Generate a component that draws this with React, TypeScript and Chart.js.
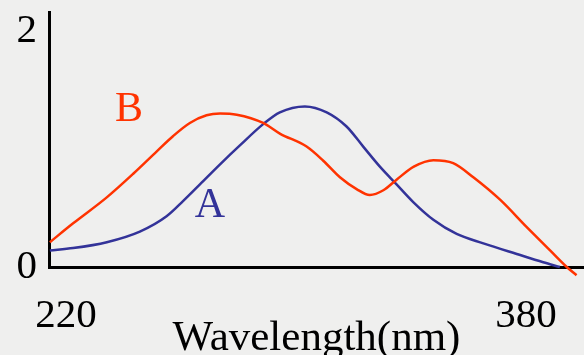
import React, { useEffect, useRef } from "react";
import { Chart, registerables } from "chart.js";

Chart.register(...registerables);

// Spectrum B (red)
const wavelengthsB = [214.4, 222.5, 234.2, 243.4, 251.6, 257.3, 263.1, 268.9, 273.6, 279.4, 288.6, 294.4, 303.7, 309.5, 315.3, 321.1, 325.7, 330.4, 335.0, 341.0, 347.8, 354.7, 361.7, 371.0, 380.2, 388.4, 394.2, 397.6];
const absorbanceB = [0.21, 0.37, 0.59, 0.79, 0.98, 1.11, 1.22, 1.285, 1.30, 1.29, 1.22, 1.13, 1.02, 0.90, 0.76, 0.66, 0.61, 0.65, 0.74, 0.85, 0.905, 0.88, 0.76, 0.57, 0.34, 0.14, 0.0, -0.07];

// Spectrum A (blue)
const wavelengthsA = [214.4, 222.5, 234.2, 245.7, 255.0, 260.8, 266.6, 273.6, 280.5, 288.6, 294.4, 303.1, 310.7, 317.6, 323.4, 329.2, 335.0, 340.8, 347.8, 355.9, 365.2, 376.8, 386.0, 391.8];
const absorbanceA = [0.14, 0.16, 0.21, 0.30, 0.43, 0.56, 0.70, 0.87, 1.03, 1.21, 1.31, 1.36, 1.31, 1.19, 1.02, 0.85, 0.70, 0.55, 0.40, 0.28, 0.20, 0.11, 0.04, 0.0];

const xTicks = [220, 380];
const yTicks = [0, 2];

// Series labels: [text, wavelength, absorbance]
const seriesLabels: [string, number, number][] = [
  ["B", 241.9, 1.33],
  ["A", 270.1, 0.52],
];

const RED = "#ff3300";
const BLUE = "#333399";
const FONT = "'Liberation Serif', 'Times New Roman', serif";

export default function App() {
  const ref = useRef<HTMLCanvasElement>(null);

  useEffect(() => {
    document.body.style.margin = "0";
    const canvas = ref.current!;
    const bgPlugin = {
      id: "bg",
      beforeDraw(chart: any) {
        const c = chart.ctx;
        c.save();
        c.fillStyle = "#efefee";
        c.fillRect(0, 0, chart.width, chart.height);
        c.restore();
      },
    };
    const labelPlugin = {
      id: "seriesLabels",
      afterDatasetsDraw(chart: any) {
        const c = chart.ctx;
        const xs = chart.scales.x;
        const ys = chart.scales.y;
        c.save();
        c.font = `42px ${FONT}`;
        c.textAlign = "center";
        c.textBaseline = "middle";
        seriesLabels.forEach(([t, wx, wy], i) => {
          c.fillStyle = i === 0 ? RED : BLUE;
          c.fillText(t, xs.getPixelForValue(wx), ys.getPixelForValue(wy));
        });
        c.restore();
      },
    };

    const chart = new Chart(canvas, {
      type: "line",
      data: {
        datasets: [
          {
            label: "B",
            data: wavelengthsB.map((w, i) => ({ x: w, y: absorbanceB[i] })),
            borderColor: RED,
            borderWidth: 2.5,
            pointRadius: 0,
            cubicInterpolationMode: "monotone",
            fill: false,
            clip: false as any,
          },
          {
            label: "A",
            data: wavelengthsA.map((w, i) => ({ x: w, y: absorbanceA[i] })),
            borderColor: BLUE,
            borderWidth: 2.5,
            pointRadius: 0,
            cubicInterpolationMode: "monotone",
            fill: false,
            clip: false as any,
          },
        ],
      },
      options: {
        responsive: false,
        animation: false,
        layout: { padding: { top: 12, right: 0, left: 0, bottom: 0 } },
        plugins: { legend: { display: false }, tooltip: { enabled: false } },
        scales: {
          x: {
            type: "linear",
            min: 214.1,
            max: 400.2,
            afterBuildTicks: (s: any) => {
              s.ticks = xTicks.map((v) => ({ value: v }));
            },
            afterFit: (s: any) => {
              s.height = 88;
              s.paddingLeft = 0;
              s.paddingRight = 0;
            },
            grid: { display: false, drawTicks: false },
            border: { display: true, color: "#000", width: 3 },
            ticks: {
              color: "#000",
              font: { family: FONT, size: 41 },
              padding: 25,
              maxRotation: 0,
              autoSkip: false,
            },
            title: {
              display: true,
              text: "Wavelength(nm)",
              color: "#000",
              font: { family: FONT, size: 43 },
              padding: { top: 0, bottom: -10 },
            },
          },
          y: {
            min: 0,
            max: 2.16,
            afterBuildTicks: (s: any) => {
              s.ticks = yTicks.map((v) => ({ value: v }));
            },
            afterFit: (s: any) => {
              s.width = 49;
              s.paddingTop = 0;
              s.paddingBottom = 0;
            },
            grid: { display: false, drawTicks: false },
            border: { display: true, color: "#000", width: 3 },
            ticks: {
              color: "#000",
              font: { family: FONT, size: 41 },
              padding: 12,
            },
          },
        },
      },
      plugins: [bgPlugin, labelPlugin],
    });
    return () => chart.destroy();
  }, []);

  return <canvas ref={ref} width={584} height={355} style={{ display: "block" }} />;
}
